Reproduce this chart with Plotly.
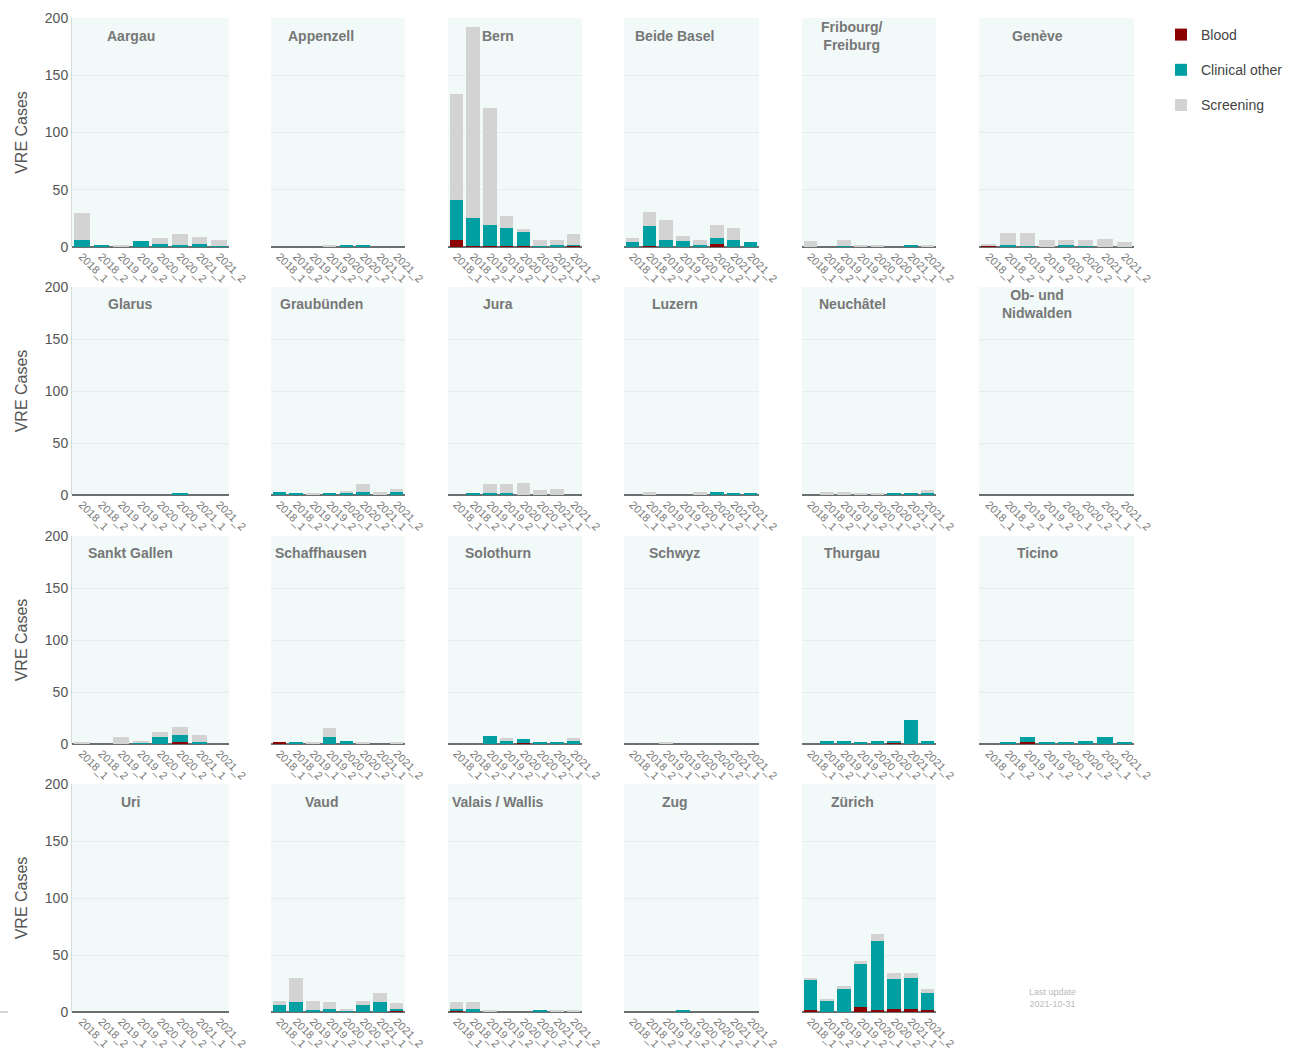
import plotly.graph_objects as go

periods = ["2018_1", "2018_2", "2019_1", "2019_2", "2020_1", "2020_2", "2021_1", "2021_2"]

cantons = [
    "Aargau", "Appenzell", "Bern", "Beide Basel", "Fribourg/<br>Freiburg", "Genève",
    "Glarus", "Graubünden", "Jura", "Luzern", "Neuchâtel", "Ob- und<br>Nidwalden",
    "Sankt Gallen", "Schaffhausen", "Solothurn", "Schwyz", "Thurgau", "Ticino",
    "Uri", "Vaud", "Valais / Wallis", "Zug", "Zürich",
]

Z = [0, 0, 0, 0, 0, 0, 0, 0]

blood = {
    "Aargau": Z, "Appenzell": Z, "Bern": [6, 1, 1, 1, 1, 0, 0, 1],
    "Beide Basel": [0, 1, 0, 0, 0, 3, 0, 0], "Fribourg/<br>Freiburg": Z,
    "Genève": [1, 0, 0, 0, 0, 0, 0, 0],
    "Glarus": Z, "Graubünden": Z, "Jura": Z, "Luzern": Z, "Neuchâtel": Z, "Ob- und<br>Nidwalden": Z,
    "Sankt Gallen": [0, 0, 0, 0, 0, 2, 0, 0], "Schaffhausen": [1, 0, 0, 0, 0, 0, 0, 0],
    "Solothurn": [0, 0, 0, 0, 1, 0, 0, 0], "Schwyz": Z, "Thurgau": [0, 0, 0, 0, 0, 1, 0, 0],
    "Ticino": [0, 0, 2, 0, 0, 0, 0, 0],
    "Uri": Z, "Vaud": [0, 0, 0, 0, 0, 0, 0, 1], "Valais / Wallis": [1, 0, 0, 0, 0, 0, 0, 0],
    "Zug": Z, "Zürich": [2, 0, 0, 4, 2, 3, 3, 2],
}

clinical = {
    "Aargau": [6, 2, 0, 5, 3, 2, 3, 1], "Appenzell": [0, 0, 0, 0, 2, 2, 0, 0],
    "Bern": [35, 24, 18, 16, 12, 1, 2, 1], "Beide Basel": [4, 17, 6, 5, 2, 5, 6, 4],
    "Fribourg/<br>Freiburg": [0, 0, 1, 0, 0, 0, 2, 0], "Genève": [0, 2, 1, 0, 2, 1, 0, 0],
    "Glarus": [0, 0, 0, 0, 0, 2, 0, 0], "Graubünden": [3, 2, 0, 2, 2, 3, 0, 3],
    "Jura": [0, 2, 2, 2, 0, 0, 0, 0], "Luzern": [0, 0, 0, 0, 0, 3, 2, 2],
    "Neuchâtel": [0, 0, 0, 0, 0, 2, 2, 2], "Ob- und<br>Nidwalden": Z,
    "Sankt Gallen": [0, 0, 0, 1, 7, 7, 2, 0], "Schaffhausen": [0, 1, 0, 7, 3, 0, 0, 0],
    "Solothurn": [0, 0, 8, 3, 4, 1, 1, 3], "Schwyz": Z,
    "Thurgau": [0, 3, 3, 2, 3, 2, 23, 3], "Ticino": [0, 2, 5, 1, 1, 3, 7, 1],
    "Uri": Z, "Vaud": [6, 9, 2, 3, 1, 6, 9, 2], "Valais / Wallis": [2, 3, 0, 0, 0, 1, 0, 0],
    "Zug": [0, 0, 0, 1, 0, 0, 0, 0], "Zürich": [26, 10, 20, 38, 60, 26, 27, 15],
}

screening = {
    "Aargau": [24, 0, 2, 0, 5, 9, 6, 5], "Appenzell": [0, 0, 0, 2, 0, 0, 0, 0],
    "Bern": [93, 167, 102, 10, 3, 5, 4, 9], "Beide Basel": [4, 13, 18, 5, 4, 11, 11, 0],
    "Fribourg/<br>Freiburg": [5, 0, 5, 2, 2, 0, 0, 2], "Genève": [2, 10, 11, 6, 4, 5, 7, 4],
    "Glarus": Z, "Graubünden": [0, 0, 2, 0, 2, 8, 3, 3],
    "Jura": [0, 0, 9, 9, 12, 5, 6, 0], "Luzern": [0, 3, 0, 0, 3, 0, 0, 0],
    "Neuchâtel": [0, 3, 3, 2, 2, 0, 0, 3], "Ob- und<br>Nidwalden": Z,
    "Sankt Gallen": [2, 0, 7, 2, 5, 7, 7, 0], "Schaffhausen": [0, 0, 2, 8, 0, 1, 0, 1],
    "Solothurn": [0, 0, 0, 3, 0, 0, 0, 3], "Schwyz": [0, 0, 1, 0, 0, 0, 0, 0],
    "Thurgau": Z, "Ticino": Z,
    "Uri": Z, "Vaud": [4, 21, 8, 6, 2, 4, 8, 5], "Valais / Wallis": [6, 6, 1, 0, 0, 0, 1, 1],
    "Zug": Z, "Zürich": [2, 1, 3, 3, 6, 5, 4, 3],
}

y_ticks = [0, 50, 100, 150, 200]

W, H = 1293, 1052
COL_PX = [(72, 229), (271, 405), (448, 582), (624, 759), (802, 936), (979, 1134)]
ROW_PX = [(18, 247), (287, 495), (536, 744), (784, 1012)]

SERIES = [("Blood", blood, "#8b0000"),
          ("Clinical other", clinical, "#00a0a2"),
          ("Screening", screening, "#d3d3d3")]

FONT = "Arial, Liberation Sans, sans-serif"

fig = go.Figure()
layout = {}
annotations = []

for i, c in enumerate(cantons):
    r, col = divmod(i, 6)
    n = i + 1
    xs = "" if n == 1 else str(n)
    xa, ya = "x" + xs, "y" + xs
    for name, data, color in SERIES:
        fig.add_trace(go.Bar(
            x=periods, y=data[c], name=name, marker_color=color,
            marker_line_width=0, xaxis=xa, yaxis=ya,
            showlegend=(i == 0), legendgroup=name,
        ))
    x0, x1 = COL_PX[col]
    y0, y1 = ROW_PX[r]
    layout["xaxis" + xs] = dict(
        domain=[x0 / W, x1 / W], anchor=ya, type="category",
        categoryorder="array", categoryarray=periods,
        tickangle=45, showgrid=False, ticks="", showline=False,
        tickfont=dict(size=11, color="#777", family=FONT),
    )
    layout["yaxis" + xs] = dict(
        domain=[1 - y1 / H, 1 - y0 / H], anchor=xa, range=[0, 200],
        tickvals=y_ticks, showgrid=True, gridcolor="#e4eeee", gridwidth=1,
        zeroline=True, zerolinecolor="#6a6f6f", zerolinewidth=2,
        showticklabels=(col == 0), ticks="",
        showline=(col == 0), linecolor="#d5dcdc", linewidth=1,
        tickfont=dict(size=14, color="#555", family=FONT),
        title=dict(text="VRE Cases" if col == 0 else "",
                   font=dict(size=16, color="#555", family=FONT), standoff=13),
    )
    annotations.append(dict(
        text="<b>" + c + "</b>", xref=xa, yref=ya, x=2.5, y=184,
        showarrow=False, xanchor="center", yanchor="middle",
        font=dict(size=14, color="#777", family=FONT),
    ))

annotations.append(dict(
    text="Last update<br>2021-10-31", xref="paper", yref="paper",
    x=1052 / W, y=1 - 998 / H, showarrow=False, xanchor="center", yanchor="middle",
    font=dict(size=9, color="#bbbbbb", family=FONT),
))

fig.update_layout(
    **layout,
    annotations=annotations,
    shapes=[dict(type="line", xref="paper", yref="paper",
                 x0=0, x1=8 / W, y0=1 - 1012 / H, y1=1 - 1012 / H,
                 line=dict(color="#aaaaaa", width=1))],
    barmode="stack", bargap=0.2,
    width=W, height=H,
    margin=dict(l=0, r=0, t=0, b=0, autoexpand=False),
    paper_bgcolor="white", plot_bgcolor="#f1f9f9",
    font=dict(family=FONT),
    legend=dict(
        x=1161 / W, y=1 - 19 / H, xanchor="left", yanchor="top",
        font=dict(size=14, color="#444", family=FONT),
        tracegroupgap=14, bgcolor="rgba(0,0,0,0)", traceorder="grouped",
    ),
)

fig.write_html(
    "out.html",
    config={"displayModeBar": False},
    post_script=(
        "var gd=document.getElementById('{plot_id}');"
        "gd.style.position='absolute';gd.style.top='0px';gd.style.left='0px';"
        "document.body.style.margin='0';document.body.style.overflow='hidden';"
        "document.documentElement.style.overflow='hidden';"
    ),
)
